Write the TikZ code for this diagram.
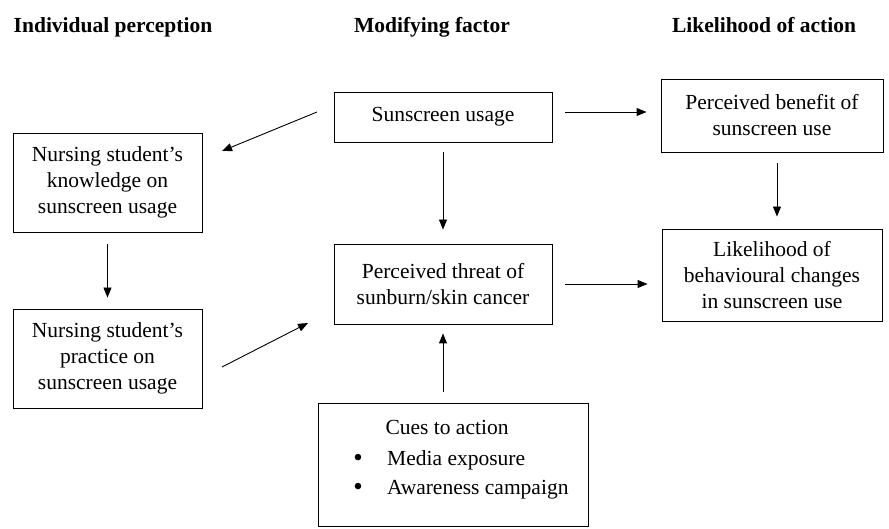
\documentclass[tikz,border=0pt]{standalone}
\usepackage{fontspec}
\setmainfont{Liberation Serif}
\usetikzlibrary{arrows.meta}
\tikzset{
  box/.style={draw=black, line width=0.9pt, rectangle, align=center, inner sep=2pt,
    font=\fontsize{21.5}{26}\selectfont},
  hdr/.style={anchor=base, font=\fontsize{21.5}{26}\selectfont\bfseries},
  txt/.style={anchor=base, inner sep=0pt, font=\fontsize{21.5}{26}\selectfont},
  bul/.style={anchor=base, inner sep=0pt, font=\fontsize{27}{26}\selectfont},
  arr/.style={draw=black, line width=0.9pt, -{Triangle[length=10pt,width=8pt]}}
}
\begin{document}
\begin{tikzpicture}[x=1pt,y=-1pt]
\useasboundingbox (0,0) rectangle (889,529);
% headers
\node[hdr] (h1) at (113,33) {Individual perception};
\node[hdr] (h2) at (432,33) {Modifying factor};
\node[hdr] (h3) at (764,33) {Likelihood of action};
% boxes
\node[box, minimum width=218pt, minimum height=50pt] (sun) at (443,117) {Sunscreen usage};
\node[box, minimum width=218pt, minimum height=80pt] (threat) at (443,284) {Perceived threat of\\sunburn/skin cancer};
\node[box, minimum width=222pt, minimum height=73pt] (ben) at (772,115.5) {Perceived benefit of\\sunscreen use};
\node[box, minimum width=220pt, minimum height=92pt] (lik) at (772,275) {Likelihood of\\behavioural changes\\in sunscreen use};
\node[box, minimum width=189pt, minimum height=99pt] (know) at (107.5,182.5) {Nursing student's\\knowledge on\\sunscreen usage};
\node[box, minimum width=189pt, minimum height=99pt] (prac) at (107.5,358.5) {Nursing student's\\practice on\\sunscreen usage};
\node[box, minimum width=270pt, minimum height=123pt] (cues) at (453,464.5) {};
\node[txt] (cuest) at (447,434) {Cues to action};
\node[bul] (b1) at (358,466) {\textbullet};
\node[bul] (b2) at (358,495) {\textbullet};
\node[txt, anchor=base west] (m1) at (387,465) {Media exposure};
\node[txt, anchor=base west] (m2) at (387,494) {Awareness campaign};
% free ends of the slanted connectors
\coordinate (sunout) at (317,112);
\coordinate (knowin) at (222,151);
\coordinate (pracout) at (222,367);
\coordinate (threatin) at (308,323);
% connectors
\draw[arr] (sunout) -- (knowin);
\draw[arr] (pracout) -- (threatin);
\draw[arr, shorten <=12pt, shorten >=11pt] (know.south) -- (prac.north);
\draw[arr, shorten <=10pt, shorten >=14pt] (sun.south) -- (threat.north);
\draw[arr, shorten <=13pt, shorten >=14pt] ([yshift=5pt]sun.east) -- ([yshift=5pt]sun.east -| ben.west);
\draw[arr, shorten <=13pt, shorten >=14pt] (threat.east) -- (threat.east -| lik.west);
\draw[arr, shorten <=11pt, shorten >=12pt] ([xshift=5pt]ben.south) -- ([xshift=5pt]lik.north);
\draw[arr, shorten <=11pt, shorten >=9pt] (threat.south |- cues.north) -- (threat.south);
\end{tikzpicture}
\end{document}
